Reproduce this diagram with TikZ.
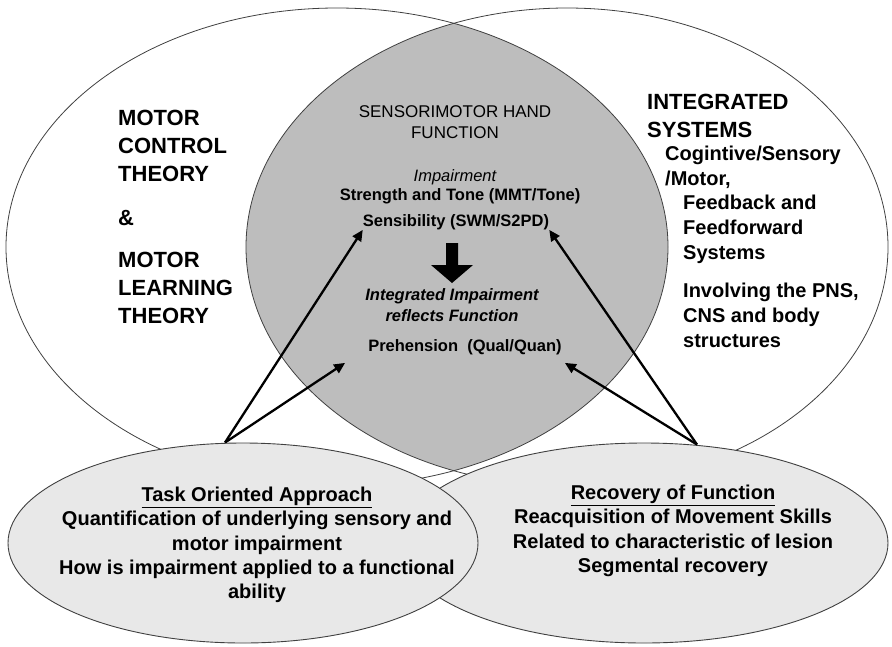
\documentclass[tikz,border=0pt]{standalone}
\usepackage{fontspec}
\setmainfont{Liberation Sans}
\usetikzlibrary{shapes.geometric,arrows.meta,positioning}

\begin{document}
\begin{tikzpicture}[
x=1pt, y=-1pt,
theory/.style={font=\bfseries\fontsize{22}{28}\selectfont, align=left, inner sep=0pt},
sys/.style={font=\bfseries\fontsize{20}{25}\selectfont, align=left, inner sep=0pt},
core/.style={font=\bfseries\fontsize{16.5}{20}\selectfont, align=center, inner sep=0pt},
oval/.style={ellipse, draw=black!75, line width=0.9pt, fill=black!9, inner sep=0pt},
ovaltxt/.style={font=\bfseries\fontsize{20}{24.3}\selectfont, align=center, inner sep=0pt},
arr/.style={-{Triangle[length=11pt,width=10pt]}, line width=2.3pt},
]
\useasboundingbox (0,0) rectangle (892,646);
% the two theory fields and their overlap
\begin{scope}
\clip (337,247) ellipse [x radius=331pt, y radius=239pt];
\fill[black!26] (567,247) ellipse [x radius=321pt, y radius=239pt];
\end{scope}
\draw[black!75, line width=0.8pt] (337,247) ellipse [x radius=331pt, y radius=239pt];
\draw[black!75, line width=0.8pt] (567,247) ellipse [x radius=321pt, y radius=239pt];
% lower ovals
\node[oval, minimum width=488pt, minimum height=200pt] (recov) at (644,543) {};
\node[oval, minimum width=470pt, minimum height=200pt] (task) at (243,543) {};

\node[theory, anchor=north west] (mct) at (118,110) {MOTOR\\CONTROL\\THEORY\\[16pt]\&\\[14pt]MOTOR\\LEARNING\\THEORY};
\node[theory, anchor=north west] (intsys) at (647,94) {INTEGRATED\\SYSTEMS};
\node[sys, anchor=north west] (cogn) at (665,146) {Cogintive/Sensory\\/Motor,};
\node[sys, anchor=north west] (feed) at (683,195) {Feedback and\\Feedforward\\Systems};
\node[sys, anchor=north west] (invol) at (683,283) {Involving the PNS,\\CNS and body\\structures};

\node[font=\fontsize{17}{20.5}\selectfont, align=center, inner sep=0pt] (hand) at (455,122) {SENSORIMOTOR HAND\\FUNCTION};
\node[font=\itshape\fontsize{16.5}{20}\selectfont, inner sep=0pt] (impair) at (455,177) {Impairment};
\node[core] (strength) at (460,196) {Strength and Tone (MMT/Tone)};
\node[core] (sens) at (456,222) {Sensibility (SWM/S2PD)};
\node[core, font=\bfseries\itshape\fontsize{16.5}{20.5}\selectfont] (integ) at (452,305) {Integrated Impairment\\reflects Function};
\node[core] (preh) at (465,347) {Prehension\ \ (Qual/Quan)};
\fill (446,243) -- (458,243) -- (458,265) -- (473,265) -- (452,283) -- (431,265) -- (446,265) -- cycle;

\node[ovaltxt] (tasktxt) at (257,545) {\underline{Task Oriented Approach}\\Quantification of underlying sensory and\\motor impairment\\How is impairment applied to a functional\\ability};
\node[ovaltxt] (recovtxt) at (673,531) {\underline{Recovery of Function}\\Reacquisition of Movement Skills\\Related to characteristic of lesion\\Segmental recovery};

\draw[arr] ([xshift=-18pt]task.north) -- (sens.south west);
\draw[arr] ([xshift=-18pt]task.north) -- ([xshift=-23pt,yshift=-8pt]preh.south west);
\draw[arr] ([xshift=53pt,yshift=-2pt]recov.north) -- (sens.south east);
\draw[arr] ([xshift=53pt,yshift=-2pt]recov.north) -- ([xshift=3pt,yshift=-8pt]preh.south east);
\end{tikzpicture}
\end{document}
